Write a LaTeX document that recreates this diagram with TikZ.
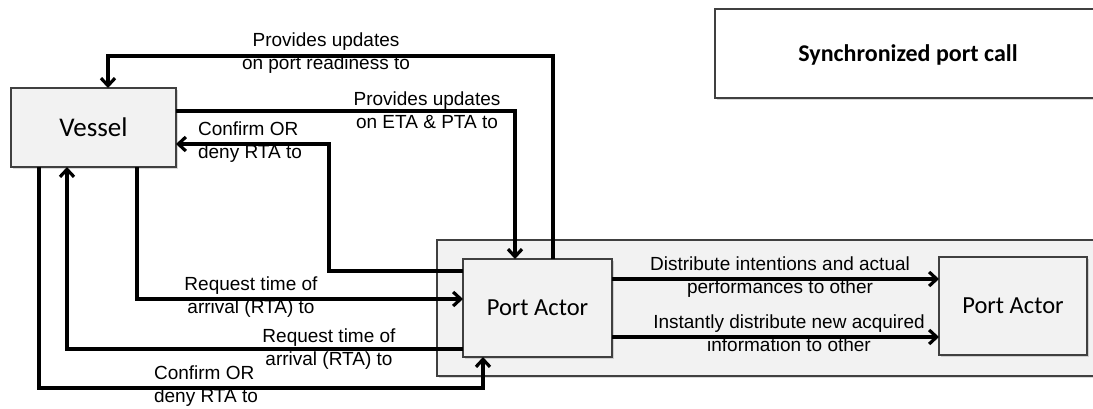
\documentclass[tikz,border=0pt]{standalone}
\usepackage{fontspec}
\setmainfont{Liberation Sans}
\newfontfamily\calibri{Carlito}
\usetikzlibrary{arrows.meta, shadows}

\begin{document}
\begin{tikzpicture}[x=1pt, y=-1pt,
  box/.style={draw=black!75, line width=1.3pt, fill=black!5, inner sep=0pt, outer sep=0pt,
    drop shadow={shadow xshift=1.5pt, shadow yshift=-1.5pt, opacity=.3}},
  actor/.style={box, font=\calibri\fontsize{24.5}{29}\selectfont},
  flow/.style={line width=3.2pt, -{Straight Barb[length=7.5pt,width=14pt]}},
  lbl/.style={align=center, inner sep=0pt, font=\fontsize{19}{23}\selectfont}]
% Escale portuaire synchronisee
\clip (0,0) rectangle (1093,408);
\node[box, minimum width=663pt, minimum height=136pt] (C) at (768.5,308) {};
\node[box, fill=white, minimum width=386pt, minimum height=89pt, text depth=0pt,
  font=\calibri\bfseries\fontsize{24}{28}\selectfont] (S) at (908,53.5) {Synchronized port call};
\node[box, minimum width=165pt, minimum height=79pt,
  font=\calibri\fontsize{27}{32}\selectfont] (V) at (93.5,127.5) {Vessel};
\node[actor, minimum width=149pt, minimum height=98pt] (PA) at (537.5,308) {Port Actor};
\node[actor, minimum width=148pt, minimum height=98pt] (PB) at (1013,306) {Port Actor};

\draw[flow] ([xshift=15.5pt]PA.north) -- ++(0,-203) -| ([xshift=14.5pt]V.north);
\draw[flow] ([yshift=16.5pt]V.east) -| ([xshift=-22.5pt]PA.north);
\draw[flow] ([yshift=37pt]PA.west) -- ++(-134,0) |- ([yshift=-16.5pt]V.east);
\draw[flow] ([xshift=43.5pt]V.south) |- ([yshift=9pt]PA.west);
\draw[flow] ([yshift=-41pt]PA.west) -| ([xshift=-26.5pt]V.south);
\draw[flow] ([xshift=-54.5pt]V.south) -- ++(0,221) -| ([xshift=-54.5pt]PA.south);
\draw[flow] ([yshift=29pt]PA.east) -- ([yshift=29pt]PA.east -| PB.west);
\draw[flow] ([yshift=-29pt]PA.east) -- ([yshift=-29pt]PA.east -| PB.west);

\node[lbl] (L1) at (326,53) {Provides updates\\on port readiness to};
\node[lbl] (L2) at (427,110) {Provides updates\\on ETA \& PTA to};
\node[lbl, align=left] (L3) at (250,142) {Confirm OR\\deny RTA to};
\node[lbl] (L4) at (251,297) {Request time of\\arrival (RTA) to};
\node[lbl] (L5) at (329,349) {Request time of\\arrival (RTA) to};
\node[lbl, align=left] (L6) at (206,386) {Confirm OR\\deny RTA to};
\node[lbl] (L7) at (780,277) {Distribute intentions and actual\\performances to other};
\node[lbl] (L8) at (789,333) {Instantly distribute new acquired\\information to other};
\end{tikzpicture}
\end{document}
